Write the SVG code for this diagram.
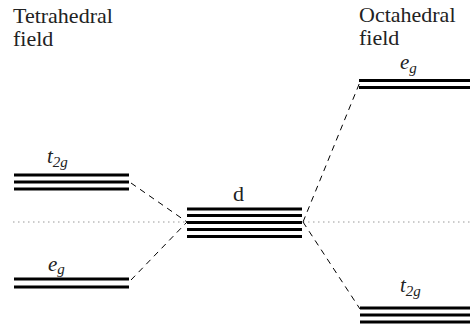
<svg xmlns="http://www.w3.org/2000/svg" width="470" height="329" viewBox="0 0 470 329">
<style>
.t{font-family:"Liberation Serif","Times New Roman",serif;fill:#222;font-size:22px}
.m{font-style:italic;font-size:21px}
.s{font-size:15px}
.lv{stroke:#000;stroke-width:3}
.dash{stroke:#000;stroke-width:1;stroke-dasharray:6 5;fill:none}
.dot{stroke:#999;stroke-width:1.2;stroke-dasharray:1.5 3.5}
</style>
<rect width="470" height="329" fill="#fff"/>
<line class="dot" x1="13" y1="222" x2="470" y2="222"/>
<g id="connectors">
<line class="dash" x1="131" y1="183" x2="187" y2="222"/>
<line class="dash" x1="131" y1="280" x2="187" y2="222"/>
<line class="dash" x1="303" y1="222" x2="360" y2="82"/>
<line class="dash" x1="303" y1="222" x2="360" y2="309"/>
</g>
<g id="tet-label"><text class="t" x="13" y="22.5">Tetrahedral</text><text class="t" x="13" y="45.5">field</text></g>
<g id="oct-label"><text class="t" x="359" y="22">Octahedral</text><text class="t" x="359" y="45">field</text></g>
<g id="tet-t2g">
<text class="t m" x="47" y="163">t<tspan class="s" dy="4">2g</tspan></text>
<line class="lv" x1="14" y1="175" x2="129" y2="175"/>
<line class="lv" x1="14" y1="182" x2="129" y2="182"/>
<line class="lv" x1="14" y1="189" x2="129" y2="189"/>
</g>
<g id="tet-eg">
<text class="t m" x="48" y="270.5">e<tspan class="s" dy="3.5">g</tspan></text>
<line class="lv" x1="14" y1="279" x2="129" y2="279"/>
<line class="lv" x1="14" y1="287" x2="129" y2="287"/>
</g>
<g id="d">
<text class="t" x="233" y="200.5">d</text>
<line class="lv" x1="187" y1="209" x2="302" y2="209"/>
<line class="lv" x1="187" y1="215.5" x2="302" y2="215.5"/>
<line class="lv" x1="187" y1="222.5" x2="302" y2="222.5"/>
<line class="lv" x1="187" y1="229.5" x2="302" y2="229.5"/>
<line class="lv" x1="187" y1="236.5" x2="302" y2="236.5"/>
</g>
<g id="oct-eg">
<text class="t m" x="400" y="69">e<tspan class="s" dy="3.5">g</tspan></text>
<line class="lv" x1="359" y1="80.5" x2="470" y2="80.5"/>
<line class="lv" x1="359" y1="87.5" x2="470" y2="87.5"/>
</g>
<g id="oct-t2g">
<text class="t m" x="400" y="292">t<tspan class="s" dy="4">2g</tspan></text>
<line class="lv" x1="360" y1="308" x2="470" y2="308"/>
<line class="lv" x1="360" y1="315" x2="470" y2="315"/>
<line class="lv" x1="360" y1="322" x2="470" y2="322"/>
</g>
</svg>
